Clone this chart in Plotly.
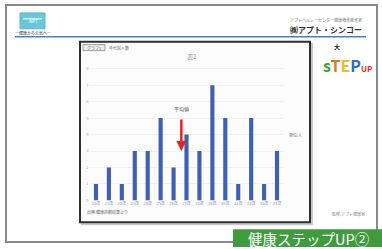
import plotly.graph_objects as go

categories = ["20歳", "21歳", "22歳", "23歳", "24歳", "25歳", "26歳", "27歳",
              "28歳", "29歳", "30歳", "31歳", "32歳", "33歳", "34歳"]
values = [1, 2, 1, 3, 3, 5, 2, 4, 3, 7, 5, 1, 5, 1, 3]
y_ticks = [0, 1, 2, 3, 4, 5, 6, 7, 8]

W, H = 382, 249
def px(x):
    return x / W
def py(y):
    return 1 - y / H

FONT = "Noto Sans CJK JP"

fig = go.Figure()
fig.add_trace(go.Bar(
    x=categories, y=values, marker_color="#3d60b4", width=0.32,
    marker_line_width=0,
))

shapes = []
# slide frame
shapes.append(dict(type="rect", xref="paper", yref="paper",
                   x0=px(6), x1=px(377), y0=py(244), y1=py(5),
                   line=dict(color="#8a8a8a", width=2), fillcolor="rgba(0,0,0,0)", layer="below"))
# header blue line
shapes.append(dict(type="line", xref="paper", yref="paper",
                   x0=px(15), x1=px(366), y0=py(37), y1=py(37),
                   line=dict(color="#4a7fc8", width=1.5)))
# logo box
shapes.append(dict(type="rect", xref="paper", yref="paper",
                   x0=px(20), x1=px(45), y0=py(29), y1=py(13),
                   line=dict(color="#5bb8d0", width=1), fillcolor="#6cc6da"))
shapes.append(dict(type="line", xref="paper", yref="paper",
                   x0=px(23), x1=px(42), y0=py(19), y1=py(19),
                   line=dict(color="#ffffff", width=1)))
# chart shadow + frame
shapes.append(dict(type="rect", xref="paper", yref="paper",
                   x0=px(82), x1=px(312), y0=py(226), y1=py(44),
                   line=dict(color="#c8c8c8", width=2), fillcolor="rgba(0,0,0,0)", layer="below"))
shapes.append(dict(type="rect", xref="paper", yref="paper",
                   x0=px(80), x1=px(310), y0=py(224), y1=py(42),
                   line=dict(color="#2e2e2e", width=2), fillcolor="#fcfcfc", layer="below"))
# label box top-left inside chart
shapes.append(dict(type="rect", xref="paper", yref="paper",
                   x0=px(83), x1=px(105), y0=py(51), y1=py(45),
                   line=dict(color="#888", width=0.8), fillcolor="#eeeeee"))
# green banner
shapes.append(dict(type="rect", xref="paper", yref="paper",
                   x0=px(233), x1=px(382), y0=py(249), y1=py(231),
                   line=dict(width=0), fillcolor="#3f9c3c"))

def note(x, y, text, size, color, xanchor="center", yanchor="middle"):
    return dict(x=px(x), y=py(y), xref="paper", yref="paper", text=text, showarrow=False,
                xanchor=xanchor, yanchor=yanchor,
                font=dict(size=size, color=color, family=FONT))

annotations = [
    dict(x=6.6, y=3.0, ax=6.6, ay=5.0, xref="x", yref="y", axref="x", ayref="y",
         text="", showarrow=True, arrowhead=2, arrowsize=0.8, arrowwidth=2.5,
         arrowcolor="#e8231e"),
    dict(x=6.6, y=5.2, xref="x", yref="y", text="平均値", showarrow=False,
         xanchor="center", yanchor="bottom",
         font=dict(size=5, color="#555", family=FONT)),
    note(192, 57, "表2", 6, "#999"),
    note(295, 136, "単位:人", 4, "#666"),
    note(85, 214, "出典:健康診断結果より", 4, "#666", xanchor="left"),
    note(94, 48, "グラフ1", 4, "#666"),
    note(107, 48, "年代別人数", 4, "#666", xanchor="left"),
    note(33, 33, "ー健康から元気へー", 4, "#333"),
    note(33, 21, "APT", 5, "#ffffff"),
    note(364, 20, "アプトヘルシーセンター健康増進推進室", 4, "#777", xanchor="right"),
    note(364, 30, "<b>㈱アプト・シンコー</b>", 8, "#333", xanchor="right"),
    note(347, 66,
         "<b><span style='color:#3aa23a'>s</span><span style='color:#e07a1e'>T</span>"
         "<span style='color:#e8c020'>E</span><span style='color:#2a6cc8'>P</span>"
         "<span style='color:#d83020;font-size:8px'>UP</span></b>", 16, "#333"),
    note(337, 47, "<b>大</b>", 6, "#222"),
    note(348, 216, "監修:アプト健康室", 4, "#888"),
    note(308, 240.5, "健康ステップUP②", 14.5, "#ffffff"),
]

fig.update_layout(
    width=W, height=H,
    margin=dict(l=0, r=0, t=0, b=0),
    paper_bgcolor="#ffffff", plot_bgcolor="rgba(0,0,0,0)",
    showlegend=False,
    shapes=shapes, annotations=annotations,
    xaxis=dict(domain=[px(89.5), px(283.5)], tickfont=dict(size=4, color="#999", family=FONT),
               showgrid=False, showline=False, ticks="", tickangle=0, fixedrange=True),
    yaxis=dict(domain=[py(202), py(61)], range=[0, 8.5], tickvals=y_ticks,
               tickfont=dict(size=4, color="#aaa", family=FONT),
               showgrid=True, gridcolor="#f1f1f1", gridwidth=0.5, zeroline=False,
               showline=False, ticks=""),
    font=dict(family=FONT),
)

fig.write_html("out.html", config={"displayModeBar": False},
               post_script="document.body.style.margin='0';document.body.style.overflow='hidden';")
